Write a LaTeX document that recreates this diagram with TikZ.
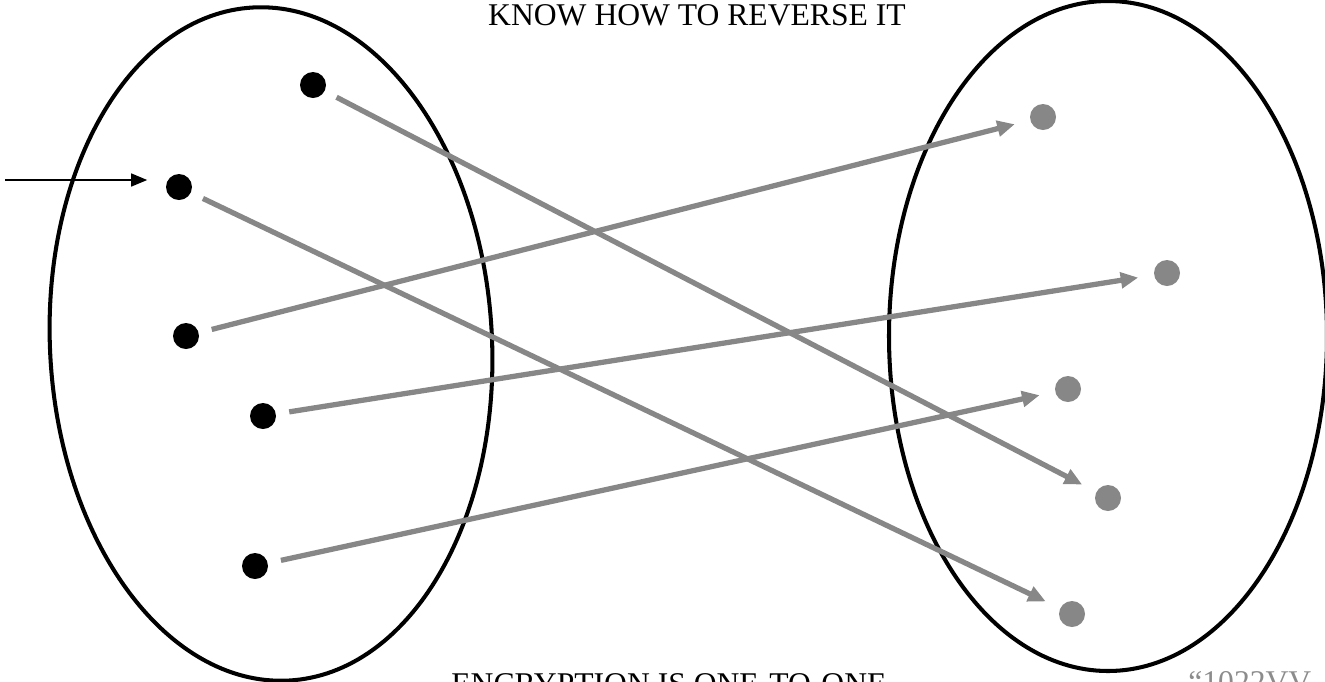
\documentclass[tikz,border=0pt]{standalone}
\usepackage{fontspec}
\setmainfont{Liberation Serif}
\usetikzlibrary{arrows.meta, positioning}

\begin{document}
\begin{tikzpicture}[
  x=0.02cm, y=-0.02cm,
  font=\fontsize{18}{21}\selectfont,
  point/.style={
    circle, fill=black, inner sep=0pt, minimum size=0.52cm
  },
  image/.style={
    circle, fill=black!47, inner sep=0pt, minimum size=0.52cm
  },
  ensemble/.style={
    draw=black, line width=2.3pt
  },
  fleche/.style={
    arrows={-Triangle[length=3.5mm, width=3.1mm]},
    draw=black!47, line width=3pt,
    shorten <=7.5pt, shorten >=9pt
  },
  entree/.style={
    arrows={-Triangle[length=3.2mm, width=2.6mm]},
    draw=black, line width=0.8pt, shorten >=10.5pt
  }
]
\clip (0,0) rectangle (1325,681);

% ----- Ensembles -----
\draw[ensemble, rotate around={3:(271,344)}] (271,344) ellipse [x radius=221, y radius=337];
\draw[ensemble] (1108,336) ellipse [x radius=219, y radius=335];

% ----- Textes -----
\node (titre) at (697,15) {KNOW HOW TO REVERSE IT};
\node[anchor=north west, inner sep=0pt] (bas) at (451,673) {ENCRYPTION IS ONE-TO-ONE};
\node[anchor=north west, inner sep=0pt, text=black!45] (note) at (1188,671) {``1022VV};

% ----- Points de depart -----
\node[point] (p1) at (313,85) {};
\node[point] (p2) at (179,187) {};
\node[point] (p3) at (186,336) {};
\node[point] (p4) at (263,416) {};
\node[point] (p5) at (255,566) {};

% ----- Images -----
\node[image] (c1) at (1043,117) {};
\node[image] (c2) at (1167,273) {};
\node[image] (c3) at (1068,389) {};
\node[image] (c4) at (1108,498) {};
\node[image] (c5) at (1072,614) {};

\coordinate (in) at (5,180);
\draw[entree] (in) -- (in -| p2.west);

\draw[fleche] (p1) -- (c4);
\draw[fleche] (p2) -- (c5);
\draw[fleche] (p3) -- (c1);
\draw[fleche] (p4) -- (c2);
\draw[fleche] (p5) -- (c3);

\end{tikzpicture}
\end{document}
